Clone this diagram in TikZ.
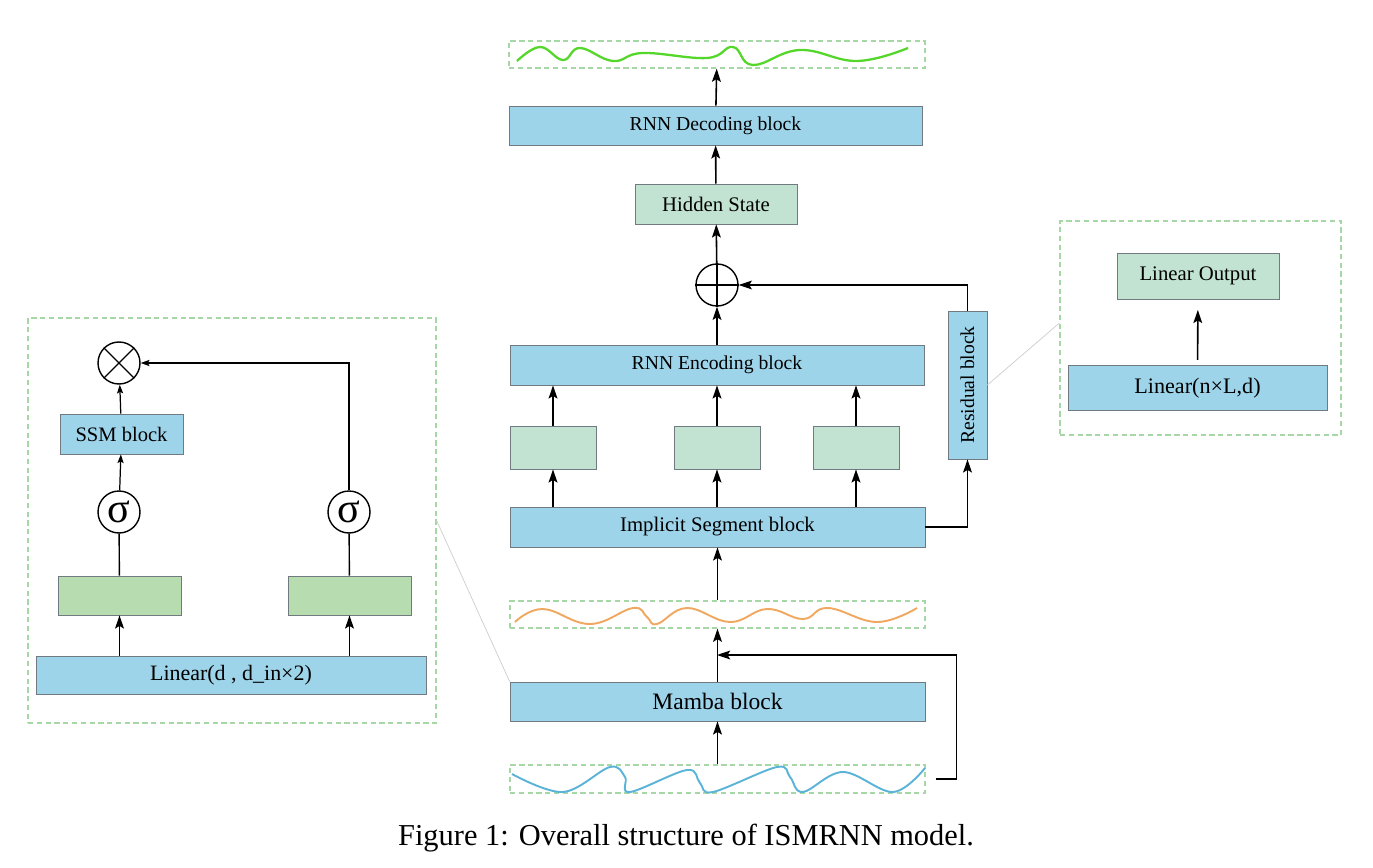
\documentclass[tikz,border=0pt]{standalone}
\usepackage{fontspec}
\setmainfont{Liberation Serif}
\usetikzlibrary{arrows.meta,positioning}
\definecolor{bluefill}{HTML}{9ED4EA}
\definecolor{edge}{HTML}{707A80}
\definecolor{mint}{HTML}{C2E2D2}
\definecolor{leaf}{HTML}{B6DCB0}
\definecolor{dash}{HTML}{A6D8A6}
\definecolor{wgreen}{HTML}{55D62A}
\definecolor{worange}{HTML}{F0A860}
\definecolor{wblue}{HTML}{5BB4D8}
\begin{document}
\begin{tikzpicture}[x=0.02cm,y=-0.02cm,
blk/.style={draw=edge,fill=bluefill,font=\fontsize{11.2}{13}\selectfont},
cell/.style={draw=edge,fill=mint,font=\fontsize{11.8}{13}\selectfont},
zone/.style={draw=dash,dashed,dash pattern=on 3pt off 2pt,line width=0.7pt},
op/.style={circle,draw,line width=0.8pt,minimum size=0.84cm,inner sep=0pt},
arr/.style={-{Stealth[length=7.5pt,width=5pt,inset=1.5pt]},line width=0.9pt},
sarr/.style={-{Stealth[length=5pt,width=3.5pt,inset=1pt]},line width=0.7pt}]
\useasboundingbox (0,0) rectangle (1373,868);
\node[zone,minimum width=8.32cm,minimum height=0.54cm] (wout) at (717,54.5) {};
\node[blk,minimum width=8.26cm,minimum height=0.78cm] (dec) at (715.5,125.5) {RNN Decoding block};
\node[cell,minimum width=3.24cm,minimum height=0.8cm] (hid) at (716,204) {Hidden State};
\node[op] (plus) at (717,285) {};
\draw[line width=0.8pt] (plus.north) -- (plus.south) (plus.west) -- (plus.east);
\node[blk,minimum width=8.28cm,minimum height=0.8cm] (enc) at (717,365) {RNN Encoding block};
\node[cell,minimum width=1.72cm,minimum height=0.86cm] (s1) at (553,447.5) {};
\node[cell,minimum width=1.72cm,minimum height=0.86cm] (s2) at (717,447.5) {};
\node[cell,minimum width=1.72cm,minimum height=0.86cm] (s3) at (856,447.5) {};
\node[blk,minimum width=8.3cm,minimum height=0.8cm,font=\fontsize{11.8}{13}\selectfont] (seg) at (717.5,527) {Implicit Segment block};
\node[zone,minimum width=8.3cm,minimum height=0.54cm] (wmid) at (717.5,614.5) {};
\node[blk,minimum width=8.3cm,minimum height=0.78cm,font=\fontsize{13.4}{15}\selectfont] (mamba) at (717.5,701.5) {Mamba block};
\node[zone,minimum width=8.3cm,minimum height=0.56cm] (win) at (717.5,779) {};
\node[blk,rotate=90,minimum width=2.96cm,minimum height=0.78cm] (res) at (967.5,385) {Residual block};
\coordinate (jn) at (717,655);
\draw[wgreen,line width=1.3pt] plot[smooth,tension=0.7] coordinates {(517,61) (540,47) (563,60) (580,48) (613,61) (643,53) (707,58) (733,47) (753,65) (800,50) (857,61) (908,48)};
\draw[worange,line width=1.1pt] plot[smooth,tension=0.7] coordinates {(515,622) (543,609) (590,624) (633,608) (647,617) (657,624) (687,608) (730,622) (767,609) (803,619) (828,608) (877,622) (917,608)};
\draw[wblue,line width=1.1pt] plot[smooth,tension=0.6] coordinates {(512,774) (563,792) (610,767) (625,777) (630,792) (687,770) (700,783) (713,792) (777,767) (790,777) (803,792) (843,772) (893,792) (925,768)};
\draw[arr] (dec) -- (wout);
\draw[arr] (hid) -- (dec);
\draw[arr] (plus) -- (hid);
\draw[arr] (enc) -- (plus);
\draw[arr] (s1.north) -- (s1.north |- enc.south);
\draw[arr] (s2.north) -- (s2.north |- enc.south);
\draw[arr] (s3.north) -- (s3.north |- enc.south);
\draw[arr] (s1.south |- seg.north) -- (s1.south);
\draw[arr] (s2.south |- seg.north) -- (s2.south);
\draw[arr] (s3.south |- seg.north) -- (s3.south);
\draw[arr] (wmid) -- (seg);
\draw[arr] (mamba) -- (wmid);
\draw[arr] (win) -- (mamba);
\draw[arr] ([xshift=0.2cm]win.east) -- ++(21,0) |- (jn);
\draw[arr] (seg.east) -| (res.west);
\draw[arr] (res.east) |- (plus.east);
\node[zone,minimum width=5.62cm,minimum height=4.28cm] (zbox) at (1200.5,328) {};
\node[cell,minimum width=3.24cm,minimum height=0.92cm] (lout) at (1198,276) {Linear Output};
\node[blk,minimum width=5.18cm,minimum height=0.9cm,font=\fontsize{12.6}{14}\selectfont] (lin2) at (1197.5,388) {Linear(n×L,d)};
\draw[arr,shorten >=6pt,shorten <=3pt] (lin2) -- (lout);
\draw[gray!40,line width=0.4pt] (res.south) -- ([yshift=0.1cm]zbox.west);
\node[zone,minimum width=8.16cm,minimum height=8.1cm] (lbox) at (232,520.5) {};
\node[op] (times) at (119,363) {};
\draw[line width=0.8pt] (times.north west) -- (times.south east) (times.north east) -- (times.south west);
\node[blk,minimum width=2.46cm,minimum height=0.8cm,font=\fontsize{11.7}{13}\selectfont] (ssm) at (121.5,434) {SSM block};
\node[op,font=\fontsize{24}{24}\selectfont] (sg1) at (119,512) {σ};
\node[op,font=\fontsize{24}{24}\selectfont] (sg2) at (349,512) {σ};
\node[draw=edge,fill=leaf,minimum width=2.46cm,minimum height=0.78cm] (g1) at (119.5,595.5) {};
\node[draw=edge,fill=leaf,minimum width=2.46cm,minimum height=0.78cm] (g2) at (349.5,595.5) {};
\node[blk,minimum width=7.8cm,minimum height=0.76cm,font=\fontsize{12.5}{14}\selectfont] (lin1) at (231,675) {Linear(d , d\_in×2)};
\draw[arr] (g1.south |- lin1.north) -- (g1.south);
\draw[arr] (g2.south |- lin1.north) -- (g2.south);
\draw[line width=0.8pt] (g1) -- (sg1);
\draw[line width=0.8pt] (g2) -- (sg2);
\draw[sarr] (sg1) -- (ssm);
\draw[sarr] (ssm) -- (times);
\draw[sarr] (sg2) |- (times.east);
\draw[gray!40,line width=0.4pt] (lbox.east) -- (mamba.north west);
\node[font=\fontsize{17.3}{20}\selectfont] (cap) at (686,838) {Figure 1: Overall structure of ISMRNN model.};
\end{tikzpicture}
\end{document}
